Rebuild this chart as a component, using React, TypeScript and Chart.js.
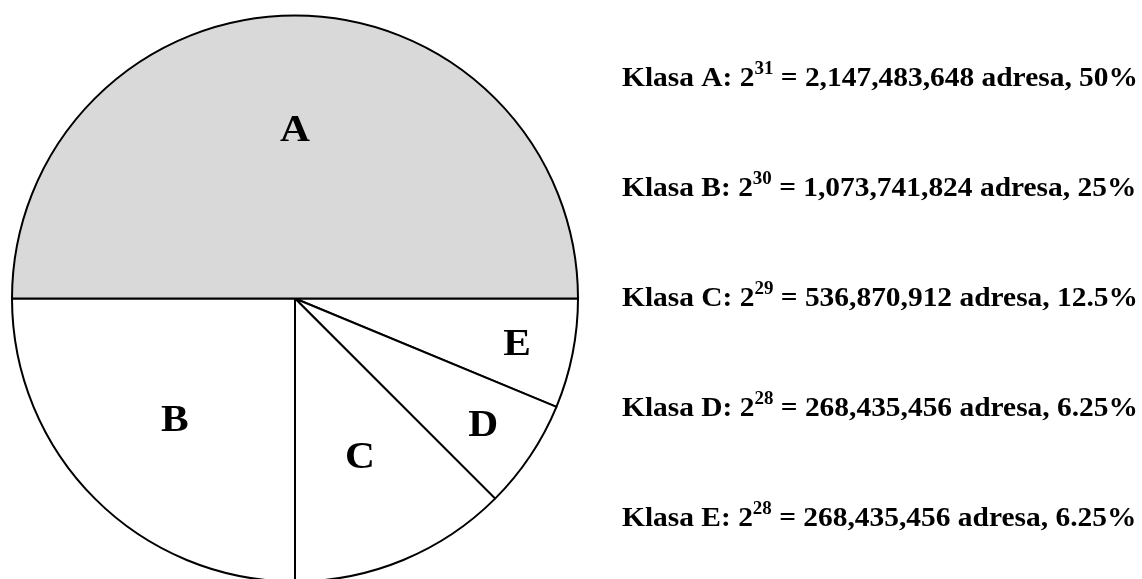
import React, { useEffect, useRef } from 'react';
import { Chart, registerables } from 'chart.js';

Chart.register(...registerables);

// ---- data ----
const classes = ['A', 'B', 'C', 'D', 'E'];
const exponents = [31, 30, 29, 28, 28];
const addresses = [2147483648, 1073741824, 536870912, 268435456, 268435456];

// ---- style ----
const sliceColors = ['#d9d9d9', '#ffffff', '#ffffff', '#ffffff', '#ffffff'];
const labelRadiusFraction = [0.6, 0.6, 0.6, 0.8, 0.8];
const FONT = '"Liberation Serif", Tinos, "Times New Roman", Times, serif';

export default function App() {
  const ref = useRef<HTMLCanvasElement | null>(null);

  useEffect(() => {
    document.body.style.margin = '0';
    document.body.style.overflow = 'hidden';
    const canvas = ref.current;
    if (!canvas) return;

    // drawn clockwise from 3 o'clock: E, D, C, B, A
    const order = [4, 3, 2, 1, 0];
    const total = addresses.reduce((a, b) => a + b, 0);

    const labelPlugin = {
      id: 'sliceAndLegendText',
      afterDraw(chart: any) {
        const ctx = chart.ctx as CanvasRenderingContext2D;
        const meta = chart.getDatasetMeta(0);
        ctx.save();
        ctx.fillStyle = '#000';
        // slice letters
        const fs = 37;
        ctx.font = `bold ${fs}px ${FONT}`;
        ctx.textAlign = 'center';
        ctx.textBaseline = 'alphabetic';
        meta.data.forEach((arc: any, i: number) => {
          const p = arc.getProps(['x', 'y', 'startAngle', 'endAngle', 'outerRadius'], true);
          const idx = order[i];
          const mid = (p.startAngle + p.endAngle) / 2;
          const r = p.outerRadius * labelRadiusFraction[idx];
          const px = p.x + Math.cos(mid) * r;
          const py = p.y + Math.sin(mid) * r;
          ctx.save();
          ctx.translate(px, py);
          ctx.scale(1.12, 1);
          ctx.fillText(classes[idx], 0, fs * 0.33);
          ctx.restore();
        });

        // legend text on the right
        const mainSize = 28;
        const supSize = 18;
        const x0 = 622;
        const y0 = 86;
        const gap = 110;
        const lines = classes.map((c, i) => {
          const pct = (addresses[i] / total) * 100;
          return {
            pre: `Klasa ${c}: 2`,
            sup: String(exponents[i]),
            post: ` = ${addresses[i].toLocaleString('en-US')} adresa, ${pct}%`,
          };
        });
        const measure = (l: any) => {
          ctx.font = `bold ${mainSize}px ${FONT}`;
          const a = ctx.measureText(l.pre).width;
          const c = ctx.measureText(l.post).width;
          ctx.font = `bold ${supSize}px ${FONT}`;
          const b = ctx.measureText(l.sup).width;
          return { a, b, c };
        };
        const m0 = measure(lines[0]);
        const sx = 516 / (m0.a + m0.b + m0.c);
        ctx.textAlign = 'left';
        lines.forEach((l, i) => {
          const m = measure(l);
          const y = y0 + i * gap;
          ctx.save();
          ctx.translate(x0, y);
          ctx.scale(sx, 1);
          ctx.font = `bold ${mainSize}px ${FONT}`;
          ctx.fillText(l.pre, 0, 0);
          ctx.font = `bold ${supSize}px ${FONT}`;
          ctx.fillText(l.sup, m.a, -mainSize * 0.42);
          ctx.font = `bold ${mainSize}px ${FONT}`;
          ctx.fillText(l.post, m.a + m.b, 0);
          ctx.restore();
        });
        ctx.restore();
      },
    };

    const chart = new Chart(canvas, {
      type: 'pie',
      data: {
        labels: order.map((i) => classes[i]),
        datasets: [
          {
            data: order.map((i) => addresses[i]),
            backgroundColor: order.map((i) => sliceColors[i]),
            borderColor: '#000000',
            borderWidth: 2,
            hoverOffset: 0,
          },
        ],
      },
      options: {
        responsive: false,
        animation: false,
        rotation: 90,
        layout: { padding: { left: 11, top: 14.5, right: 1142 - 579, bottom: 600 - 582.5 } },
        plugins: {
          legend: { display: false },
          tooltip: { enabled: false },
        },
        events: [],
      },
      plugins: [labelPlugin],
    });

    return () => {
      chart.destroy();
    };
  }, []);

  return (
    <div style={{ position: 'absolute', left: 0, top: 0, width: 1142, height: 579, overflow: 'hidden', background: '#fff' }}>
      <canvas ref={ref} width={1142} height={600} style={{ display: 'block' }} />
    </div>
  );
}
